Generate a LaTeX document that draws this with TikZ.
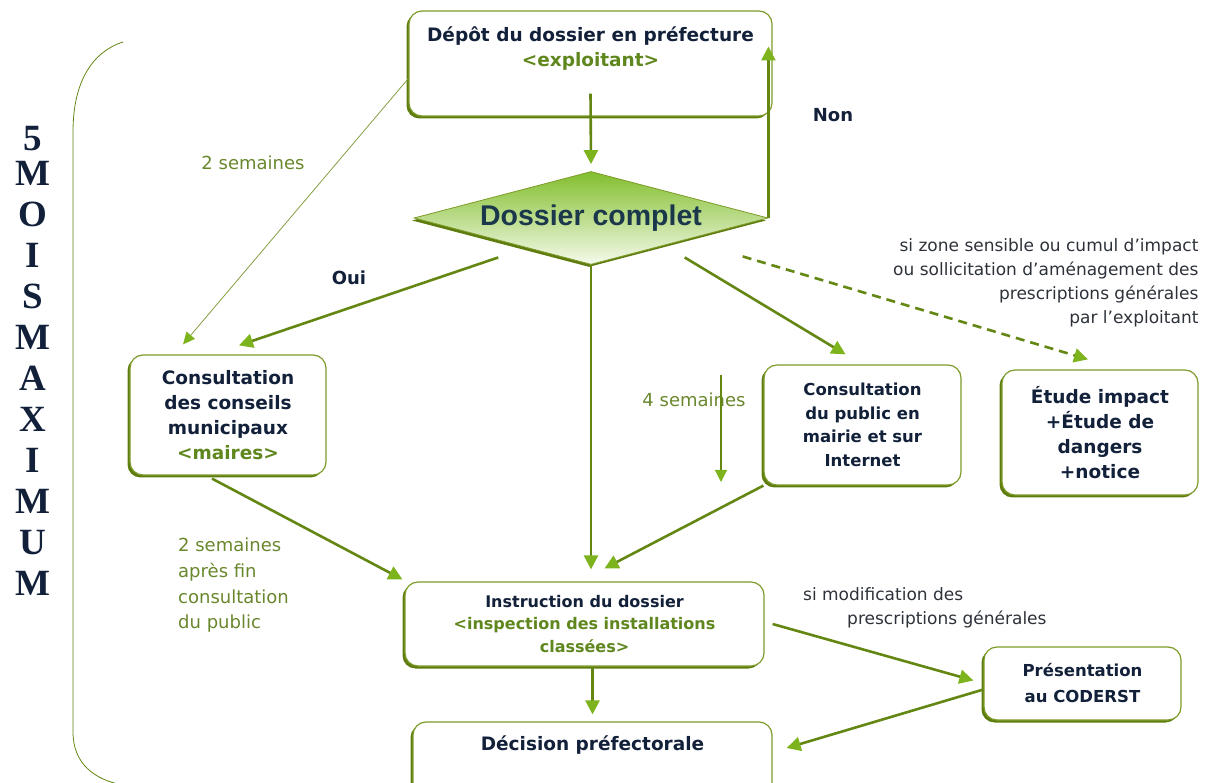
\documentclass[tikz,border=0pt]{standalone}
\usepackage{fontspec}
\setmainfont{DejaVu Sans}
\newfontfamily\diamfont{Liberation Sans}
\newfontfamily\moisfont{Liberation Serif}
\usetikzlibrary{arrows.meta,
                positioning,
                shapes.geometric,
                shadows}
\definecolor{navy}{RGB}{18,32,58}
\definecolor{darkteal}{RGB}{27,55,75}
\definecolor{boxgreen}{RGB}{125,155,40}
\definecolor{shadowgreen}{RGB}{95,125,15}
\definecolor{linegreen}{RGB}{100,135,20}
\definecolor{tipgreen}{RGB}{125,180,30}
\definecolor{subgreen}{RGB}{95,135,30}
\definecolor{lblgreen}{RGB}{105,135,45}
\definecolor{notegray}{RGB}{45,50,58}
\newcommand\bigbold{\fontsize{18.5}{25}\selectfont\bfseries}
\newcommand\smallbold{\fontsize{16.5}{23.5}\selectfont\bfseries}

\begin{document}
\begin{tikzpicture}[x=1pt, y=1pt,
   box/.style = {draw=boxgreen, line width=1.2pt, rounded corners=13pt,
                 fill=white, align=center, text=navy, font=\bigbold,
                 drop shadow={shadow xshift=-2.5pt, shadow yshift=-2.5pt,
                              fill=shadowgreen, opacity=1}},
  sbox/.style = {box, font=\smallbold},
 check/.style = {diamond, aspect=3.8, minimum width=354pt, minimum height=93pt,
                 inner sep=0pt, draw=boxgreen, line width=0.8pt,
                 top color={rgb,255:red,130;green,190;blue,45},
                 middle color={rgb,255:red,205;green,232;blue,160},
                 bottom color={rgb,255:red,245;green,250;blue,235},
                 drop shadow={shadow xshift=-2pt, shadow yshift=-2.5pt,
                              fill=shadowgreen, opacity=1},
                 text=darkteal, font=\diamfont\fontsize{28.5}{30}\selectfont\bfseries},
   lbl/.style = {text=lblgreen, font=\fontsize{18}{25.7}\selectfont, inner sep=0pt},
  note/.style = {text=notegray, font=\fontsize{17}{24}\selectfont, inner sep=0pt},
  blbl/.style = {text=navy, font=\fontsize{18}{22}\selectfont\bfseries},
  flow/.style = {draw=linegreen, line width=2.6pt,
                 -{Triangle[length=14pt, width=14pt, color=tipgreen]}},
 lflow/.style = {draw=linegreen!80, line width=0.8pt,
                 -{Triangle[length=12pt, width=11pt, color=tipgreen]}},
 mflow/.style = {draw=linegreen, line width=1.3pt,
                 -{Triangle[length=12pt, width=12pt, color=tipgreen]}}
                    ]
\useasboundingbox (0,0) rectangle (1209,782);
% time frame
\draw[linegreen, line width=0.8pt] (123,740) .. controls (92,730) and (73,700) .. (73,650)
      -- (73,50) .. controls (73,18) and (95,2) .. (123,-3);
\node[anchor=north, inner sep=0pt, align=center, text=navy,
      font=\moisfont\fontsize{37}{41}\selectfont\bfseries] (mois) at (33,656)
      {5\\[-6pt]M\\O\\I\\S\\M\\A\\X\\I\\M\\U\\M};
% boxes
\node[box, minimum width=363pt, minimum height=105pt] (depot) at (590.5,718.5) {};
\node[anchor=north, inner sep=0pt, align=center, text=navy, font=\bigbold] (depottxt)
      at ([yshift=-16pt]depot.north)
      {Dépôt du dossier en préfecture\\\textcolor{subgreen}{<exploitant>}};
\node[check] (dossier) at (591,564) {Dossier complet};
\node[box, minimum width=196pt, minimum height=120pt] (conseils) at (228,367)
      {Consultation\\des conseils\\municipaux\\\textcolor{subgreen}{<maires>}};
\node[sbox, minimum width=197pt, minimum height=120pt] (public) at (862.5,357)
      {Consultation\\du public en\\mairie et sur\\Internet};
\node[box, minimum width=196pt, minimum height=125pt] (etude) at (1100,349.5)
      {Étude impact\\+Étude de\\dangers\\+notice};
\node[sbox, font=\fontsize{16}{22.5}\selectfont\bfseries,
      minimum width=359pt, minimum height=84pt] (instruction) at (584.5,158)
      {Instruction du dossier\\\textcolor{subgreen}{<inspection des installations}\\
       \textcolor{subgreen}{classées>}};
\node[sbox, font=\fontsize{16.5}{26}\selectfont\bfseries,
      minimum width=197pt, minimum height=73pt] (presentation) at (1082.5,98.5)
      {Présentation\\au CODERST};
\node[box, minimum width=359pt, minimum height=78pt] (decision) at (592.5,21) {};
\node[text=navy, font=\bigbold] (dectxt) at ([yshift=-24pt]decision.north)
      {Décision préfectorale};
% labels
\node[blbl] (non) at (833,667) {Non};
\node[blbl] (oui) at (349,504) {Oui};
\node[lbl] (deux) at (253,619) {2 semaines};
\node[lbl] (quatre) at (694,382) {4 semaines};
\node[lbl, align=left, anchor=north west] (apres) at (178,244)
      {2 semaines\\après fin\\consultation\\du public};
\node[note, align=right, above left=42pt and 0pt of etude.north east] (zone)
      {si zone sensible ou cumul d’impact\\ou sollicitation d’aménagement des\\
       prescriptions générales\\par l’exploitant};
\node[note, align=left, anchor=north west] (modif) at (803,195)
      {si modification des\\\hspace*{44pt}prescriptions générales};
% connectors
\coordinate (nontip) at ([yshift=17pt]depot.east);
\coordinate (q1) at (721,407);
\coordinate (q2) at (721,300);
\draw[flow] ([yshift=23pt]depot.south) -- ([yshift=7pt]dossier.north);
\draw[flow] (dossier.east) -- (dossier.east |- nontip);
\draw[flow] ([xshift=-4pt,yshift=-16pt]dossier.south west) -- ([xshift=11pt,yshift=9pt]conseils.north);
\draw[lflow] ([yshift=-15pt]depot.west) -- ([xshift=-45pt,yshift=10pt]conseils.north);
\draw[flow, shorten >=12pt] (dossier.south) -- (dossier.south |- instruction.north);
\draw[flow] ([xshift=5pt,yshift=-16pt]dossier.south east) -- ([xshift=-17pt,yshift=10pt]public.north);
\draw[flow, dash pattern=on 9pt off 6pt] ([xshift=63pt,yshift=-15pt]dossier.south east)
      -- ([xshift=-12pt,yshift=10pt]etude.north);
\draw[mflow] (q1) -- (q2);
\draw[flow] (public.south west) -- ([xshift=20pt,yshift=13pt]instruction.north);
\draw[flow] ([xshift=-16pt,yshift=-3pt]conseils.south) -- ([xshift=-2pt,yshift=2pt]instruction.north west);
\draw[flow] (instruction.south -| decision.north) -- ([yshift=7pt]decision.north);
\draw[flow] ([xshift=8pt]instruction.east) -- ([xshift=-10pt,yshift=3pt]presentation.west);
\draw[flow] ([yshift=-6pt]presentation.west) -- ([xshift=14pt,yshift=13pt]decision.east);
\end{tikzpicture}
\end{document}
